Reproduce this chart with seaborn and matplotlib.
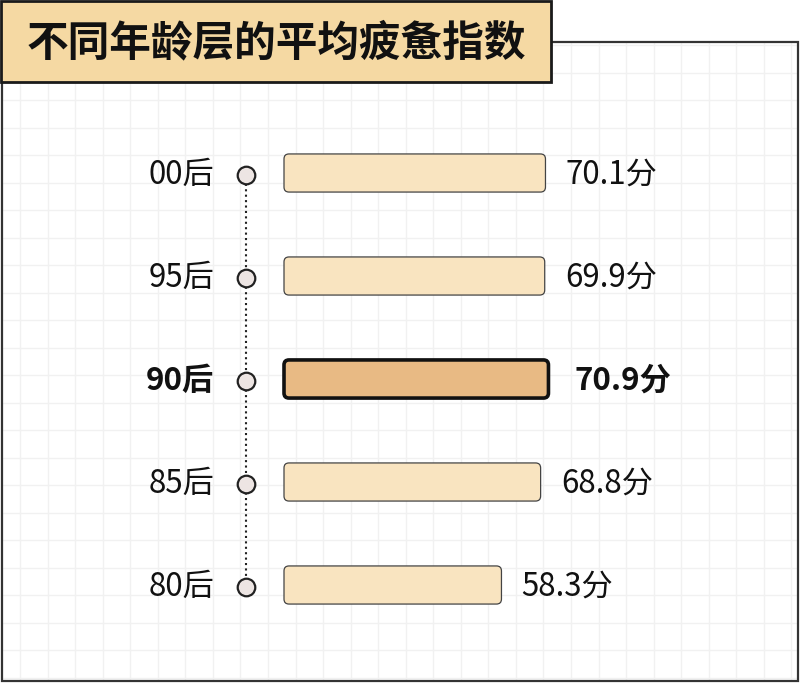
import numpy as np
import pandas as pd
import seaborn as sns
import matplotlib.pyplot as plt
from matplotlib.patches import FancyBboxPatch, Rectangle

groups = ['00后', '95后', '90后', '85后', '80后']
scores = [70.1, 69.9, 70.9, 68.8, 58.3]
highlight = '90后'
title = '不同年龄层的平均疲惫指数'

sns.set_theme(style='white')
plt.rcParams['font.family'] = ['Noto Sans CJK SC', 'DejaVu Sans']

W, H = 801, 683
fig = plt.figure(figsize=(W / 100, H / 100), dpi=100)

# background: grid paper, frame, title box (pixel coords)
bg = fig.add_axes([0, 0, 1, 1])
bg.set_xlim(0, W)
bg.set_ylim(H, 0)
bg.axis('off')
bg.add_patch(Rectangle((2, 42), 796, 639, fc='white', ec='none', zorder=0))
for gx in np.arange(20, 798, 27.55):
    bg.plot([gx, gx], [43, 680], color='#f1f1f1', lw=1, zorder=1)
for gy in np.arange(45, 681, 27.5):
    bg.plot([3, 797], [gy, gy], color='#f1f1f1', lw=1, zorder=1)
bg.add_patch(Rectangle((2, 42), 796, 639, fc='none', ec='#333333', lw=1.6, zorder=2))
bg.add_patch(Rectangle((1, 1), 550, 81, fc='#F5D9A3', ec='#1a1a1a', lw=2, zorder=3))
bg.text(27, 43, title, fontsize=30, fontweight='heavy', color='#111111',
        ha='left', va='center', zorder=4)

# main chart
ax = fig.add_axes([0, 0, 1, 1])
ax.patch.set_alpha(0)
df = pd.DataFrame({'group': groups, 'score': scores})
pal = {g: ('#E8BA84' if g == highlight else '#F9E4C0') for g in groups}
sns.barplot(data=df, x='score', y='group', hue='group', palette=pal, orient='h',
            width=0.37, saturation=1, legend=False, ax=ax)

ppu = 3.73      # pixels per score unit
x0_px = 284     # pixel of score 0
row_px = 103
top_px = 173
ax.set_xlim(-x0_px / ppu, (W - x0_px) / ppu)
ax.set_ylim((H - top_px) / row_px, -top_px / row_px)
ax.axis('off')

r = 5 / ppu
aspect = (1 / row_px) / (1 / ppu)
hl_idx = groups.index(highlight)
for p in list(ax.patches):
    x, y = p.get_x(), p.get_y()
    w, h = p.get_width(), p.get_height()
    fc = p.get_facecolor()
    p.remove()
    hl = abs((y + h / 2) - hl_idx) < 0.1
    ax.add_patch(FancyBboxPatch((x, y), w, h,
                                boxstyle=f'round,pad=0,rounding_size={r}',
                                mutation_aspect=aspect, fc=fc,
                                ec='#111111' if hl else '#444444',
                                lw=2.6 if hl else 0.9, zorder=3))

dot_x = (246 - x0_px) / ppu
ypos = np.arange(len(groups))
ax.plot([dot_x, dot_x], [ypos[0], ypos[-1]], color='#222222', lw=1.5,
        dashes=(1, 1.6), zorder=2)
ax.scatter([dot_x] * len(groups), ypos + 0.015, s=160, c='#EDE5E3',
           edgecolors='#222222', linewidths=1.6, zorder=4)

lab_x = (214 - x0_px) / ppu
for i, (g, v) in enumerate(zip(groups, scores)):
    bold = g == highlight
    wt = 'bold' if bold else 'light'
    ax.text(lab_x, i + 0.02, g, ha='right', va='center', fontsize=22.5,
            fontweight=wt, color='#111111')
    ax.text(v + (7.0 if bold else 5.4), i + 0.02, f'{v}分', ha='left', va='center',
            fontsize=22.5, fontweight=wt, color='#111111')

fig.savefig('out.png', dpi=100)
